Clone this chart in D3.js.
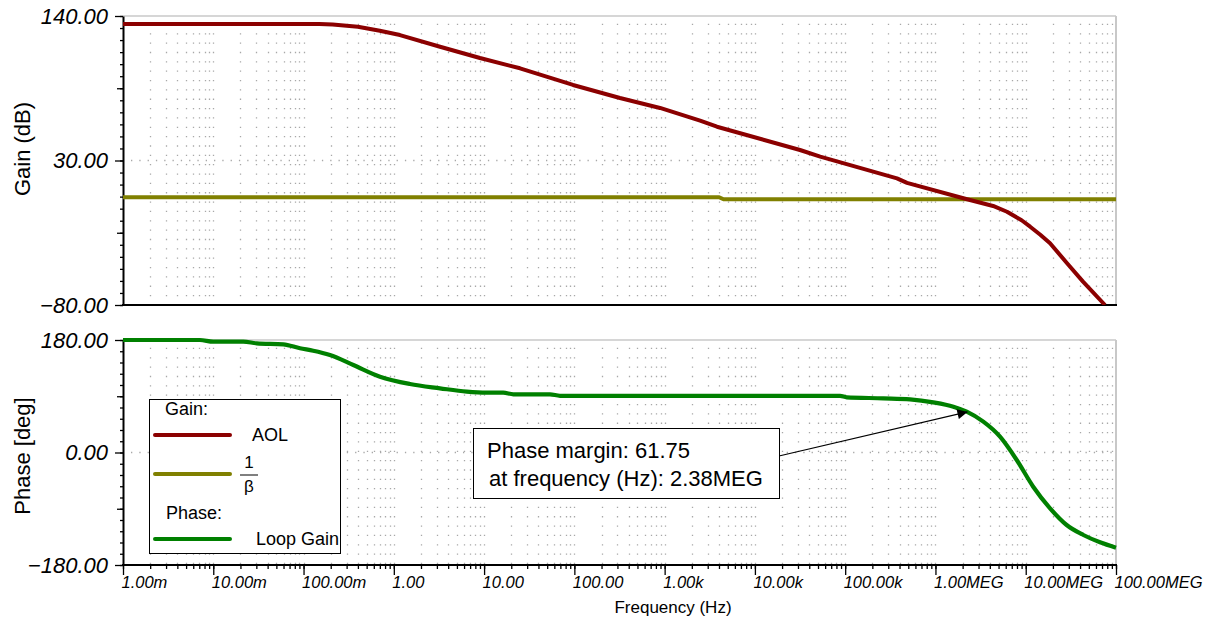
<!DOCTYPE html>
<html>
<head>
<meta charset="utf-8">
<script src="https://cdnjs.cloudflare.com/ajax/libs/d3/7.8.5/d3.min.js"></script>
<style>
body{margin:0;background:#fff;}
svg text{font-family:"Liberation Sans",Arial,sans-serif;fill:#000;}
</style>
</head>
<body>
<script>
const w = 1213;
const h = 622;

// x axis decades and their labels
const freqMajor = [1e-3, 1e-2, 1e-1, 1, 10, 100, 1e3, 1e4, 1e5, 1e6, 1e7, 1e8];
const freqLabels = ["1.00m", "10.00m", "100.00m", "1.00", "10.00", "100.00", "1.00k", "10.00k", "100.00k", "1.00MEG", "10.00MEG", "100.00MEG"];

const gainTicks = [140, 30, -80];
const gainLabels = ["140.00", "30.00", "\u221280.00"];
const phaseTicks = [180, 0, -180];
const phaseLabels = ["180.00", "0.00", "\u2212180.00"];

// AOL (dB)
const aolFreq = [0.001, 0.15, 0.21, 0.4, 0.7, 1.17, 3.25, 9.0, 25, 96.6, 320, 889, 2470, 3800, 31600, 52900, 375000, 484000, 2240000, 4350000, 6200000, 9000000, 11200000, 14500000, 18600000, 28700000, 43100000, 75500000];
const aolGain = [134, 134, 133.6, 131.8, 128.8, 125.5, 116.6, 108.0, 100.2, 87.5, 77.6, 70.0, 60.3, 55.7, 38.0, 32.9, 16.4, 13.0, 0.5, -4.6, -9.0, -15.5, -20.4, -26.5, -33.0, -48.2, -62.2, -80];

// 1/beta (dB)
const betaFreq = [0.001, 4000, 4500, 1e8];
const betaGain = [2.0, 2.0, 0.5, 0.5];

// loop gain phase (deg)
const phaseFreq = [0.001, 0.0071, 0.01, 0.0215, 0.0303, 0.0597, 0.0914, 0.128, 0.196, 0.356, 0.703, 1.51, 3.25, 6.42, 10.7, 16.3, 21.1, 53.7, 69.3, 87700, 104000, 265000, 523000, 946000, 1580000, 2220000, 3390000, 5190000, 7950000, 12100000, 18600000, 28400000, 43500000, 66500000, 1e8];
const phaseDeg = [180, 180, 177.3, 177.3, 174.7, 173.1, 166.7, 162.9, 156, 140, 121.3, 109.6, 102.7, 97.3, 95.7, 95.7, 93.1, 93.1, 90.7, 90.7, 88.3, 86.7, 85.1, 80.3, 73.3, 65.3, 49.3, 25.3, -12, -54.7, -89.3, -116, -132, -143.7, -152.3];

const pmFreq = 2.38e6;
const pmValue = 61.75;

const legendNames = ["AOL", "1/\u03b2", "Loop Gain"];
const legendColors = ["#8b0000", "#808000", "#008000"];

const left = 123, right = 1116;
const gainTop = 16, gainBottom = 305;
const phaseTop = 340, phaseBottom = 565;

let svg = d3.select("body")
    .append("svg")
    .attr("width", w)
    .attr("height", h);

svg.append("rect").attr("width", w).attr("height", h).attr("fill", "#fff");

let defs = svg.append("defs");
defs.append("clipPath").attr("id", "clipGain")
    .append("rect").attr("x", left).attr("y", gainTop - 3).attr("width", right - left).attr("height", gainBottom - gainTop + 3);
defs.append("marker").attr("id", "arrow")
    .attr("viewBox", "0 0 10 10").attr("refX", 10).attr("refY", 5)
    .attr("markerWidth", 13).attr("markerHeight", 10).attr("markerUnits", "userSpaceOnUse")
    .attr("orient", "auto")
    .append("path").attr("d", "M0,0L10,5L0,10z").attr("fill", "#000");

let x = d3.scaleLog().domain([1e-3, 1e8]).range([left, right]);
let yGain = d3.scaleLinear().domain([-80, 140]).range([gainBottom, gainTop]);
let yPhase = d3.scaleLinear().domain([-180, 180]).range([phaseBottom, phaseTop]);

// 2..9 inside every decade
let freqMinor = [];
freqMajor.slice(0, -1).forEach(d => {
    for (let k = 1; k <= 9; k++) freqMinor.push(d * k);
});
freqMinor.push(1e8);

function drawGrid(y, top, bottom, majorRow) {
    let g = svg.append("g");
    g.selectAll("line.v")
        .data(freqMinor.filter(f => f > 1e-3 && f < 1e8))
        .enter().append("line")
        .attr("class", "v")
        .attr("x1", d => Math.round(x(d)) + 0.5).attr("x2", d => Math.round(x(d)) + 0.5)
        .attr("y1", top).attr("y2", bottom)
        .attr("stroke", "#a8a8a8")
        .attr("stroke-width", 1.3)
        .attr("stroke-dasharray", "1.3 8.05")
        .attr("stroke-dashoffset", -7.8);
    g.append("line")
        .attr("x1", left + 8).attr("x2", right)
        .attr("y1", y(majorRow)).attr("y2", y(majorRow))
        .attr("stroke", "#a8a8a8")
        .attr("stroke-width", 1.3)
        .attr("stroke-dasharray", "1.3 7");
}

drawGrid(yGain, gainTop, gainBottom, 30);
drawGrid(yPhase, phaseTop, phaseBottom, 0);

// frame lines
function frame(top, bottom) {
    svg.append("line").attr("x1", left).attr("x2", right).attr("y1", top).attr("y2", top)
        .attr("stroke", "#c8c8c8").attr("stroke-width", 1.5);
    svg.append("line").attr("x1", right).attr("x2", right).attr("y1", top).attr("y2", bottom)
        .attr("stroke", "#c8c8c8").attr("stroke-width", 2);
    svg.append("line").attr("x1", left - 1).attr("x2", right + 1).attr("y1", bottom).attr("y2", bottom)
        .attr("stroke", "#000").attr("stroke-width", 2);
}
frame(gainTop, gainBottom);
frame(phaseTop, phaseBottom);

// y axes
function yAxis(y, ticks, labels, mids, step) {
    let minors = d3.range(y.domain()[0], y.domain()[1] + 0.001, step);
    let g = svg.append("g").attr("transform", "translate(" + left + ",0)");
    g.append("g").call(d3.axisLeft(y).tickValues(minors).tickSize(3).tickFormat(""))
        .call(a => a.select(".domain").remove());
    g.append("g").call(d3.axisLeft(y).tickValues(mids).tickSize(6).tickFormat(""))
        .call(a => a.select(".domain").remove());
    let major = g.append("g").call(d3.axisLeft(y).tickValues(ticks).tickSize(8).tickSizeOuter(0).tickPadding(7)
        .tickFormat((d, i) => labels[i]));
    major.select(".domain").attr("stroke-width", 2);
    major.selectAll("text")
        .attr("font-size", 22).attr("font-style", "italic")
        .attr("font-family", "'Liberation Sans',Arial,sans-serif");
    g.selectAll(".tick line").attr("stroke-width", 1.3);
}
yAxis(yGain, gainTicks, gainLabels, [85, -25], 110 / 12);
yAxis(yPhase, phaseTicks, phaseLabels, [90, -90], 18);

// x axis (bottom panel only)
let xg = svg.append("g").attr("transform", "translate(0," + phaseBottom + ")");
xg.append("g").call(d3.axisBottom(x).tickValues(freqMinor).tickSize(4).tickFormat(""))
    .call(a => a.select(".domain").remove());
let xMajor = xg.append("g").call(d3.axisBottom(x).tickValues(freqMajor).tickSize(10).tickSizeOuter(0).tickPadding(1.5)
    .tickFormat((d, i) => freqLabels[i]));
xMajor.select(".domain").remove();
xMajor.selectAll("text")
    .attr("text-anchor", "start").attr("dx", -2)
    .attr("font-size", 16.5).attr("font-style", "italic")
    .attr("font-family", "'Liberation Sans',Arial,sans-serif");
xg.selectAll(".tick line").attr("stroke-width", 1.3);

// axis titles
svg.append("text").attr("transform", "translate(22,149) rotate(-90)")
    .attr("text-anchor", "middle").attr("dy", "0.35em").attr("font-size", 22).text("Gain (dB)");
svg.append("text").attr("transform", "translate(22,456) rotate(-90)")
    .attr("text-anchor", "middle").attr("dy", "0.35em").attr("font-size", 22).text("Phase [deg]");
svg.append("text").attr("x", 673).attr("y", 613)
    .attr("text-anchor", "middle").attr("font-size", 17).text("Frequency (Hz)");

// curves
let lineGain = d3.line().x(d => x(d[0])).y(d => yGain(d[1]));
let linePhase = d3.line().x(d => x(d[0])).y(d => yPhase(d[1])).curve(d3.curveMonotoneX);

svg.append("path")
    .datum(betaFreq.map((f, i) => [f, betaGain[i]]))
    .attr("d", lineGain)
    .attr("fill", "none").attr("stroke", legendColors[1]).attr("stroke-width", 4);

svg.append("path")
    .datum(aolFreq.map((f, i) => [f, aolGain[i]]))
    .attr("d", lineGain)
    .attr("clip-path", "url(#clipGain)")
    .attr("fill", "none").attr("stroke", legendColors[0]).attr("stroke-width", 4)
    .attr("stroke-linejoin", "round");

svg.append("path")
    .datum(phaseFreq.map((f, i) => [f, phaseDeg[i]]))
    .attr("d", linePhase)
    .attr("fill", "none").attr("stroke", legendColors[2]).attr("stroke-width", 4.2)
    .attr("stroke-linejoin", "round");

// legend
let lg = svg.append("g");
lg.append("rect").attr("x", 149.5).attr("y", 399.5).attr("width", 191).attr("height", 154)
    .attr("fill", "#fff").attr("stroke", "#000").attr("stroke-width", 1);
lg.append("text").attr("x", 165).attr("y", 415).attr("font-size", 18).text("Gain:");
lg.append("text").attr("x", 166).attr("y", 519).attr("font-size", 18).text("Phase:");
const legendY = [435, 474, 539];
legendColors.forEach((c, i) => {
    lg.append("line").attr("x1", 155).attr("x2", 230).attr("y1", legendY[i]).attr("y2", legendY[i])
        .attr("stroke", c).attr("stroke-width", 4).attr("stroke-linecap", "round");
});
lg.append("text").attr("x", 252).attr("y", 441).attr("font-size", 18).text(legendNames[0]);
lg.append("text").attr("x", 256).attr("y", 545).attr("font-size", 18).text(legendNames[2]);
// 1/beta as a fraction
lg.append("text").attr("x", 249).attr("y", 468).attr("text-anchor", "middle").attr("font-size", 17).text("1");
lg.append("line").attr("x1", 240).attr("x2", 258).attr("y1", 475).attr("y2", 475)
    .attr("stroke", "#000").attr("stroke-width", 1);
lg.append("text").attr("x", 249).attr("y", 492).attr("text-anchor", "middle").attr("font-size", 17).text("\u03b2");

// phase margin annotation
let ag = svg.append("g");
ag.append("line")
    .attr("x1", 779).attr("y1", 456)
    .attr("x2", x(pmFreq) - 2).attr("y2", yPhase(pmValue) - 2)
    .attr("stroke", "#000").attr("stroke-width", 1.2)
    .attr("marker-end", "url(#arrow)");
ag.append("rect").attr("x", 473.5).attr("y", 428.5).attr("width", 306).attr("height", 70)
    .attr("fill", "#fff").attr("stroke", "#000").attr("stroke-width", 1);
ag.append("text").attr("x", 487).attr("y", 458).attr("font-size", 22)
    .text("Phase margin: " + pmValue.toFixed(2));
ag.append("text").attr("x", 489).attr("y", 486).attr("font-size", 22)
    .text("at frequency (Hz): 2.38MEG");
</script>
</body>
</html>
